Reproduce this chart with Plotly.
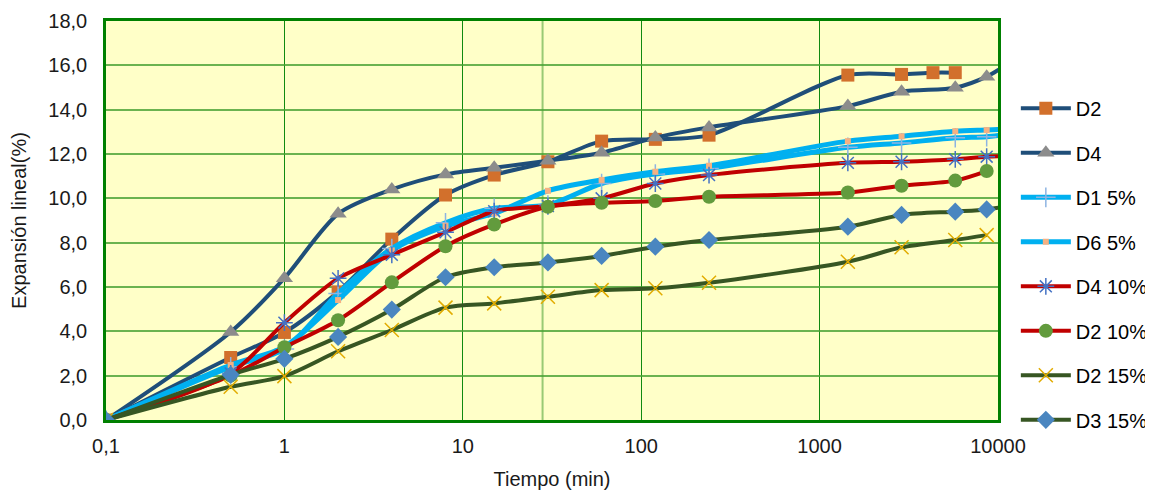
import plotly.graph_objects as go

# x values (min); last value lies beyond the visible axis (clipped), continuing lines to the edge
t_full = [0.1, 0.5, 1, 2, 4, 8, 15, 30, 60, 120, 240, 1440, 2880, 5760, 8640, 11520]
t_d2 = [0.1, 0.5, 1, 2, 4, 8, 15, 30, 60, 120, 240, 1440, 2880, 4320, 5760]
t_end = [0.1, 0.5, 1, 2, 4, 8, 15, 30, 60, 120, 240, 1440, 2880, 5760, 8640]

d2 = [0, 2.82, 3.95, 5.78, 8.16, 10.15, 11.05, 11.65, 12.58, 12.66, 12.85, 15.56, 15.59, 15.67, 15.67]
d4 = [0, 3.97, 6.4, 9.3, 10.4, 11.08, 11.38, 11.7, 12.06, 12.74, 13.2, 14.16, 14.81, 14.99, 15.49, 16.1]
d1_5 = [0, 2.4, 3.2, 5.71, 7.74, 8.9, 9.55, 9.7, 10.67, 11.1, 11.35, 12.3, 12.5, 12.73, 12.78, 12.9]
d6_5 = [0, 2.48, 3.3, 5.41, 7.65, 8.75, 9.32, 10.34, 10.83, 11.2, 11.47, 12.58, 12.8, 13.03, 13.08, 13.12]
d4_10 = [0, 2.1, 4.39, 6.39, 7.45, 8.47, 9.42, 9.65, 10.0, 10.67, 11.05, 11.6, 11.65, 11.76, 11.88, 11.9]
d2_10 = [0, 2.0, 3.28, 4.5, 6.21, 7.84, 8.82, 9.62, 9.8, 9.88, 10.07, 10.26, 10.57, 10.8, 11.23]
d2_15 = [0, 1.5, 1.98, 3.1, 4.06, 5.07, 5.26, 5.56, 5.86, 5.94, 6.19, 7.14, 7.79, 8.12, 8.34]
d3_15 = [0, 2.04, 2.76, 3.75, 4.98, 6.44, 6.89, 7.11, 7.4, 7.82, 8.12, 8.72, 9.25, 9.4, 9.5, 9.65]

x_tickvals = [0.1, 1, 10, 100, 1000, 10000]
x_ticktext = ["0,1", "1", "10", "100", "1000", "10000"]
y_tickvals = [0, 2, 4, 6, 8, 10, 12, 14, 16, 18]

series = [
    ("D2", t_d2, d2, "#1F4E79", 4, dict(symbol="square", size=13, color="#D2702C")),
    ("D4", t_full, d4, "#1F4E79", 4, dict(symbol="triangle-up", size=15, color="#8C8C8C")),
    ("D1 5%", t_full, d1_5, "#00B0F0", 5, dict(symbol="cross-thin-open", size=14, color="#8DB4E2", line=dict(width=1.5))),
    ("D6 5%", t_full, d6_5, "#00B0F0", 5, dict(symbol="square", size=6, color="#F4B183")),
    ("D4 10%", t_full, d4_10, "#C00000", 4, dict(symbol="asterisk-open", size=14, color="#4472C4", line=dict(width=1.5))),
    ("D2 10%", t_end, d2_10, "#C00000", 4, dict(symbol="circle", size=14, color="#629B3D")),
    ("D2 15%", t_end, d2_15, "#375623", 4, dict(symbol="x-thin-open", size=14, color="#E2AC00", line=dict(width=1.5))),
    ("D3 15%", t_full, d3_15, "#375623", 4, dict(symbol="diamond", size=14, color="#4A86C0")),
]

fig = go.Figure()
for i, (name, xs, ys, lc, lw, mk) in enumerate(series):
    fig.add_trace(go.Scatter(
        x=xs, y=ys, name=name, mode="lines+markers",
        line=dict(color=lc, width=lw, shape="spline", smoothing=0.8),
        marker=mk, legendgroup=f"g{i}", cliponaxis=True,
    ))

fig.add_shape(type="line", xref="x", yref="paper", x0=28, x1=28, y0=0, y1=1,
              line=dict(color="rgba(110,180,80,0.7)", width=2), layer="below")

font_family = "Liberation Sans, Arial, sans-serif"
fig.update_layout(
    width=1145, height=483,
    margin=dict(l=98, r=155, t=13, b=71, autoexpand=False),
    paper_bgcolor="white", plot_bgcolor="#FFFFC8",
    separators=",.",
    font=dict(family=font_family, size=20, color="#1a1a1a"),
    showlegend=True,
    legend=dict(x=1.02, y=0.83, xanchor="left", yanchor="top",
                font=dict(size=20, color="#000000"), tracegroupgap=15.5,
                itemwidth=50, bgcolor="rgba(0,0,0,0)"),
    xaxis=dict(type="log", range=[-1, 4], tickvals=x_tickvals, ticktext=x_ticktext,
               showgrid=True, gridcolor="#108A10", gridwidth=1, automargin=False,
               showline=True, linecolor="#008000", linewidth=2.5, mirror=True,
               zeroline=False, ticks="", ticklen=0, ticklabelstandoff=6,
               title=dict(text="Tiempo (min)", font=dict(size=20), standoff=17)),
    yaxis=dict(range=[0, 18], tickvals=y_tickvals, tickformat=".1f",
               showgrid=True, gridcolor="rgba(70,160,50,0.8)", gridwidth=2, automargin=False,
               showline=True, linecolor="#008000", linewidth=2.5, mirror=True,
               zeroline=False, ticks="", ticklen=0, ticklabelstandoff=12,
               title=dict(text="Expansión lineal(%)", font=dict(size=20), standoff=17)),
)

fig.write_html("out.html")
